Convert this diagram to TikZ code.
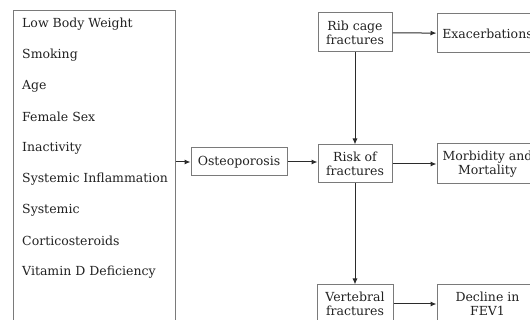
\documentclass[tikz,border=0pt]{standalone}
\usepackage{fontspec}
\setmainfont{DejaVu Serif}
\usetikzlibrary{arrows.meta,positioning,calc}
\definecolor{boxgray}{HTML}{7A7A7A}
\definecolor{linedark}{HTML}{2B2B2B}
\definecolor{textdark}{HTML}{222222}
\tikzset{
  box/.style={draw=boxgray, line width=1pt, align=center, inner sep=2pt,
    font=\fontsize{12.5}{14}\selectfont, text=textdark},
  item/.style={anchor=west, inner sep=0pt, font=\fontsize{12.5}{14}\selectfont, text=textdark},
  edge/.style={-{Latex[length=6pt,width=5pt]}, line width=1pt, color=linedark},
}

\begin{document}
\begin{tikzpicture}[x=1pt,y=-1pt]
  \useasboundingbox (0,0) rectangle (530,320);
  \clip (0,0) rectangle (530,320);
  % risk factors
  \node[box, minimum width=162pt, minimum height=330pt] (risks) at (94,176) {};
  \foreach \t [count=\i] in {Low Body Weight, Smoking, Age, Female Sex, Inactivity,
      Systemic Inflammation, Systemic, Corticosteroids, Vitamin D Deficiency}
    \node[item] (f\i) at (22,{24+31*(\i-1)}) {\t};
  % middle column
  \node[box, minimum width=96pt, minimum height=28pt] (osteo) at (239,162) {Osteoporosis};
  \node[box, minimum width=74pt, minimum height=39pt] (rib) at (355,32.5) {Rib cage\\fractures};
  \node[box, minimum width=74pt, minimum height=38pt] (risk) at (355,164) {Risk of\\fractures};
  \node[box, minimum width=76pt, minimum height=38pt] (vert) at (355,304) {Vertebral\\fractures};
  % outcomes
  \node[box, minimum width=101pt, minimum height=39pt] (exac) at (487.5,33.5) {Exacerbations};
  \node[box, minimum width=101pt, minimum height=40pt] (morb) at (487.5,164) {Morbidity and\\Mortality};
  \node[box, minimum width=101pt, minimum height=38pt] (decl) at (487.5,304) {Decline in\\FEV1};
  % arrows
  \draw[edge] (risks.east |- osteo.west) -- (osteo.west);
  \draw[edge] (osteo.east) -- (osteo.east -| risk.west);
  \draw[edge] (rib) -- (risk);
  \draw[edge] (risk) -- (vert);
  \draw[edge] (rib) -- (exac);
  \draw[edge] (risk) -- (morb);
  \draw[edge] (vert) -- (decl);
\end{tikzpicture}
\end{document}
